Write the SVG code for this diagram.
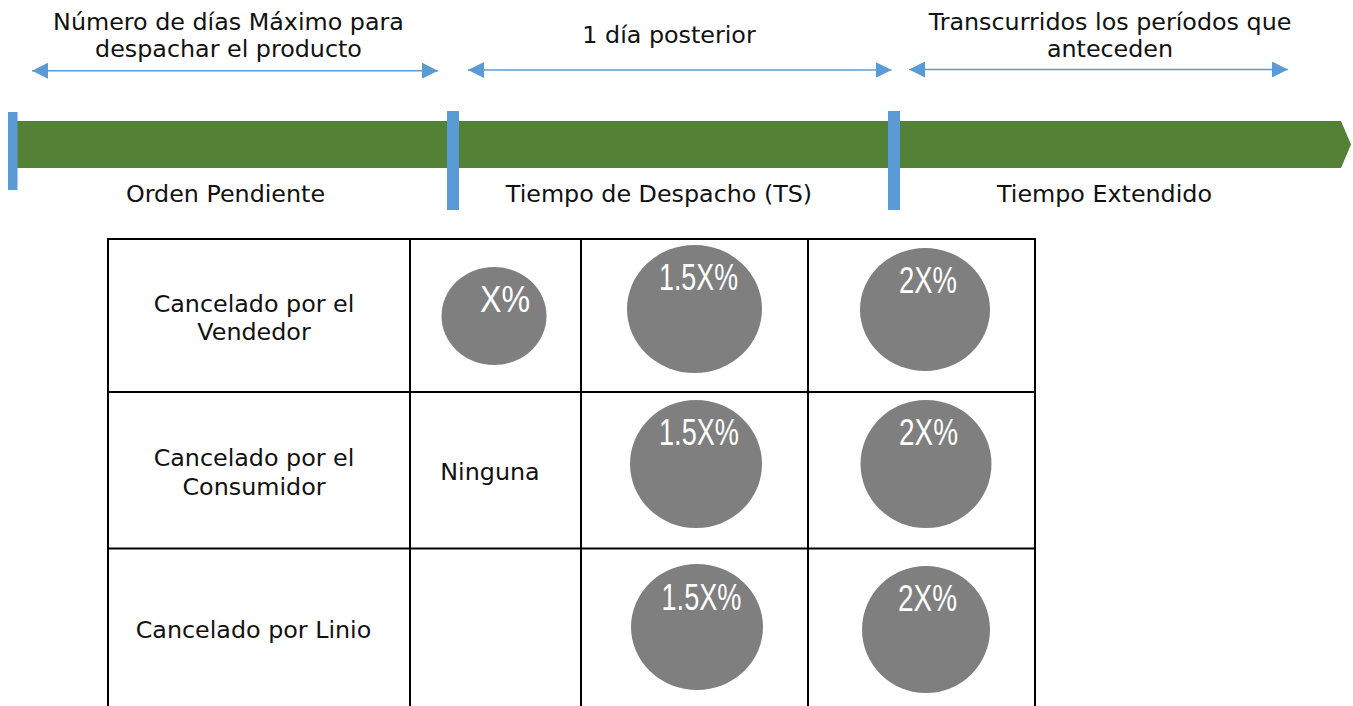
<svg xmlns="http://www.w3.org/2000/svg" width="1353" height="706" viewBox="0 0 1353 706">
<style>
.t{font-family:"DejaVu Sans",Verdana,sans-serif;font-size:23.8px;fill:#111;text-anchor:middle}
.p{font-family:"Liberation Sans",Arial,sans-serif;font-size:36px;fill:#fff;text-anchor:middle}
.dot{fill:#7f7f7f}
.tick{fill:#5b9bd5}
.arr{stroke:#5b9bd5;stroke-width:1.6;fill:none;marker-start:url(#ah);marker-end:url(#ah)}
.grid{stroke:#000;stroke-width:2;fill:none}
</style>
<defs>
<marker id="ah" markerUnits="userSpaceOnUse" markerWidth="16" markerHeight="16" refX="16" refY="8" orient="auto-start-reverse"><path d="M0,0 L16,8 L0,16 z" fill="#5b9bd5"/></marker>
</defs>
<rect width="1353" height="706" fill="#fff"/>
<g id="timeline">
<polygon points="17,121 1341,121 1351,144.5 1341,168 17,168" fill="#538135"/>
<rect class="tick" x="8" y="112" width="9.5" height="78"/>
<rect class="tick" x="447" y="111" width="12" height="99"/>
<rect class="tick" x="888" y="111" width="12" height="99"/>
</g>
<g id="connectors">
<line class="arr" x1="32" y1="70.7" x2="438" y2="70.7"/>
<line class="arr" x1="468" y1="70" x2="891.5" y2="70"/>
<line class="arr" x1="909" y1="69.5" x2="1288" y2="69.5"/>
</g>
<g id="labels-top">
<text class="t" x="228.5" y="29.5">Número de días Máximo para</text>
<text class="t" x="228.5" y="56.7">despachar el producto</text>
<text class="t" x="669" y="43.3">1 día posterior</text>
<text class="t" x="1110" y="29.5">Transcurridos los períodos que</text>
<text class="t" x="1110" y="56.7">anteceden</text>
</g>
<g id="labels-phase">
<text class="t" x="225.5" y="201.7">Orden Pendiente</text>
<text class="t" x="659" y="201.7">Tiempo de Despacho (TS)</text>
<text class="t" x="1104.5" y="201.7">Tiempo Extendido</text>
</g>
<g id="table">
<line class="grid" x1="108" y1="239" x2="1035" y2="239"/>
<line class="grid" x1="108" y1="392" x2="1035" y2="392"/>
<line class="grid" x1="108" y1="548.5" x2="1035" y2="548.5"/>
<line class="grid" x1="108" y1="238" x2="108" y2="706"/>
<line class="grid" x1="410" y1="238" x2="410" y2="706"/>
<line class="grid" x1="581" y1="238" x2="581" y2="706"/>
<line class="grid" x1="808" y1="238" x2="808" y2="706"/>
<line class="grid" x1="1035" y1="238" x2="1035" y2="706"/>
</g>
<g id="row-vendedor">
<text class="t" x="254" y="311.7">Cancelado por el</text>
<text class="t" x="254" y="340">Vendedor</text>
<ellipse class="dot" cx="494" cy="316" rx="52.5" ry="49"/>
<text class="p" x="505" y="311.7" textLength="50" lengthAdjust="spacingAndGlyphs">X%</text>
<ellipse class="dot" cx="694.5" cy="309" rx="67.5" ry="64"/>
<text class="p" x="698.5" y="290" textLength="79" lengthAdjust="spacingAndGlyphs">1.5X%</text>
<ellipse class="dot" cx="925" cy="309.5" rx="65" ry="61.5"/>
<text class="p" x="928" y="293" textLength="58" lengthAdjust="spacingAndGlyphs">2X%</text>
</g>
<g id="row-consumidor">
<text class="t" x="254" y="466">Cancelado por el</text>
<text class="t" x="254" y="495">Consumidor</text>
<text class="t" x="490" y="480">Ninguna</text>
<ellipse class="dot" cx="696" cy="464" rx="66" ry="64"/>
<text class="p" x="699" y="445" textLength="80" lengthAdjust="spacingAndGlyphs">1.5X%</text>
<ellipse class="dot" cx="926" cy="464" rx="65.5" ry="64"/>
<text class="p" x="928.5" y="445" textLength="59" lengthAdjust="spacingAndGlyphs">2X%</text>
</g>
<g id="row-linio">
<text class="t" x="253.5" y="638">Cancelado por Linio</text>
<ellipse class="dot" cx="697" cy="627" rx="66" ry="63"/>
<text class="p" x="701.5" y="610" textLength="80" lengthAdjust="spacingAndGlyphs">1.5X%</text>
<ellipse class="dot" cx="926" cy="629.5" rx="64" ry="63.5"/>
<text class="p" x="927.5" y="610.5" textLength="59" lengthAdjust="spacingAndGlyphs">2X%</text>
</g>
</svg>
